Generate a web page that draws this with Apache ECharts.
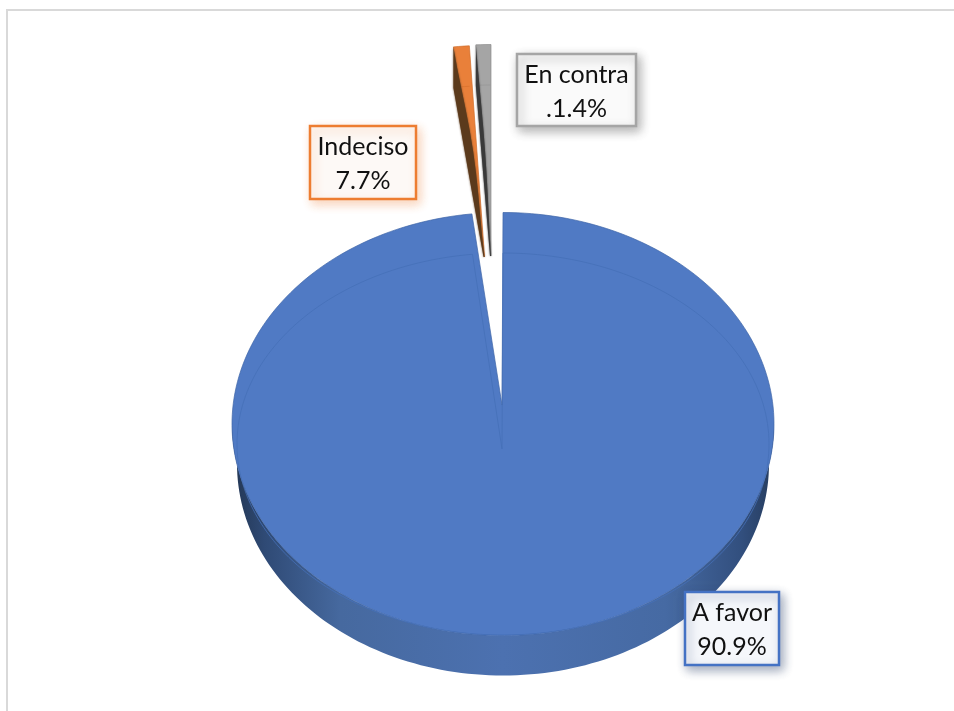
<!DOCTYPE html>
<html>
<head>
<meta charset="utf-8">
<style>html,body{margin:0;padding:0;background:#fff}#c{width:954px;height:711px}</style>
<script src="https://cdn.jsdelivr.net/npm/echarts@6/dist/echarts.min.js"></script>
</head>
<body>
<div id="c"></div>
<script>
// Printed labels of the reference
const categories = ['A favor', 'Indeciso', 'En contra'];
const labelValues = ['90.9%', '7.7%', '.1.4%'];
// Slice sizes as actually drawn in the reference (percent of the circle;
// the reference's slices are not proportional to its printed labels)
const drawnShares = [98.17, 0.94, 0.89];

// Styles and layout
const faceColors = ['#507ac4', '#e9803a', '#a5a5a5'];
const edgeColors = ['#3f66a8', '#d06f2c', '#8e8e8e'];
const bevelColors = ['#4570b8', '#d9722e', '#979797'];
const sideColors = [null, '#5b3a1c', '#3a3a3a'];
const sideBulge = [0, 4.3, 1.6];
const boxBorders = ['#4472c4', '#ed7d31', '#a5a5a5'];
const boxFills = ['#f5f7fb', '#fdf9f6', '#fafafa'];
const boxShadows = ['rgba(50,70,110,0.45)', 'rgba(237,125,49,0.32)', 'rgba(90,90,90,0.45)'];
const boxes = [[685, 592, 94, 73], [310, 126, 106, 73], [517, 54, 119, 72]];
const textDy = [1, 1.5, 2];
const apexes = [[502, 405], [484.5, 257], [491, 256]];
const arcCenters = [[503, 424], [484.5, 257], [491, 256]];
const RX = 271, RY = 211.5, DEPTH = 40, INNER_RX = 266, INNER_RY = 191, INNER_DY = 20;
const FONT = 'Lato, "Noto Sans", sans-serif';

const rad = d => d * Math.PI / 180;
function ell(c, rx, ry, deg, dy) {
  return [c[0] + rx * Math.sin(rad(deg)), c[1] + (dy || 0) - ry * Math.cos(rad(deg))];
}
function arc(c, rx, ry, a, b, dy) {
  const n = Math.max(2, Math.ceil(Math.abs(b - a) / 1.5));
  const out = [];
  for (let i = 0; i <= n; i++) out.push(ell(c, rx, ry, a + (b - a) * i / n, dy));
  return out;
}
const starts = [];
drawnShares.reduce((s, v, i) => { starts[i] = s; return s + v * 3.6; }, 0);

function renderSlice(params, api) {
  const i = params.dataIndex;
  const a = starts[i], b = a + api.value(0) * 3.6;
  const c = arcCenters[i], apex = apexes[i];
  const kids = [];
  const face = arc(c, RX, RY, a, b).concat([apex]);
  if (i === 0) {
    const wall = arc(c, 266, RY, 90, 270, DEPTH).concat(arc(c, RX, RY, 270, 90));
    kids.push({ type: 'polygon', silent: true, shape: { points: wall }, style: {
      fill: { type: 'linear', x: 0, y: 0, x2: 1, y2: 0, colorStops: [
        { offset: 0, color: '#233653' }, { offset: 0.06, color: '#2f4a75' }, { offset: 0.2, color: '#46699f' },
        { offset: 0.5, color: '#4c71b0' }, { offset: 0.8, color: '#466aa3' }, { offset: 0.94, color: '#324f7e' },
        { offset: 1, color: '#263c5e' }] } } });
  }
  kids.push({ type: 'polygon', silent: true, shape: { points: face }, style: {
    fill: faceColors[i], stroke: edgeColors[i], lineWidth: 0.7 } });
  const bevel = arc(c, INNER_RX, INNER_RY, a, b, INNER_DY);
  if (i === 0) {
    bevel.push([c[0] - 1, c[1] + 25]);
    bevel.push(bevel[0]);
  }
  kids.push({ type: 'polyline', silent: true, shape: { points: bevel }, style: {
    fill: 'none', stroke: bevelColors[i], lineWidth: 0.8 } });
  if (i > 0) {
    // Dark side wall of an exploded slice, laid over the narrow face as in the reference
    const first = face[0];
    const inner = [];
    for (let k = 0; k <= 10; k++) {
      const t = k / 10;
      inner.push([first[0] + (apex[0] - first[0]) * t + sideBulge[i] * Math.pow(Math.sin(Math.PI * t), 1.6),
                  first[1] + (apex[1] - first[1]) * t]);
    }
    const side = inner.concat([[apex[0] - 1, apex[1]], [first[0], first[1] + DEPTH + 1]]);
    kids.push({ type: 'polygon', silent: true, shape: { points: side }, style: {
      fill: sideColors[i], shadowBlur: 2, shadowColor: sideColors[i] } });
  }
  const bx = boxes[i];
  kids.push({ type: 'rect', silent: true, shape: { x: bx[0], y: bx[1], width: bx[2], height: bx[3] }, style: {
    fill: boxFills[i], stroke: boxBorders[i], lineWidth: 2.5,
    shadowBlur: 10, shadowOffsetX: 3, shadowOffsetY: 4, shadowColor: boxShadows[i] } });
  kids.push({ type: 'text', silent: true, style: {
    x: bx[0] + bx[2] / 2, y: bx[1] + bx[3] / 2 + textDy[i],
    text: categories[i] + '\n' + labelValues[i], fill: '#111',
    font: '25px ' + FONT, lineHeight: 34, align: 'center', verticalAlign: 'middle' } });
  return { type: 'group', children: kids };
}

const chart = echarts.init(document.getElementById('c'), null, { renderer: 'canvas' });
chart.setOption({
  animation: false,
  backgroundColor: '#ffffff',
  graphic: [
    { type: 'rect', silent: true, shape: { x: 6, y: 9, width: 948, height: 2 }, style: { fill: '#d9d9d9' } },
    { type: 'rect', silent: true, shape: { x: 6, y: 9, width: 2, height: 702 }, style: { fill: '#d9d9d9' } }
  ],
  series: [{
    type: 'custom',
    coordinateSystem: 'none',
    renderItem: renderSlice,
    data: drawnShares.map((v, i) => ({ name: categories[i], value: [v] }))
  }]
});
</script>
</body>
</html>
